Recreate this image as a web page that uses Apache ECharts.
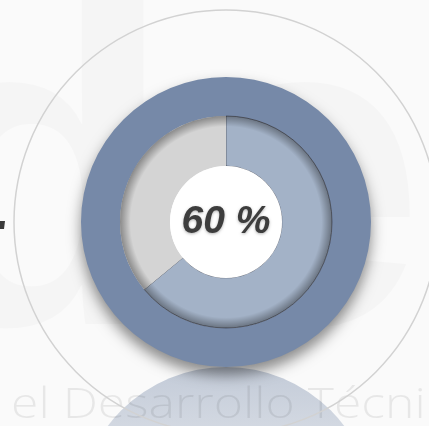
<!DOCTYPE html>
<html>
<head>
<meta charset="utf-8">
<script src="https://cdn.jsdelivr.net/npm/echarts@6/dist/echarts.min.js"></script>
<style>
html,body{margin:0;padding:0;background:#fafafa;}
#c{width:429px;height:426px;}
</style>
</head>
<body>
<div id="c"></div>
<script>
const categories = ['Completado', 'Restante'];
const values = [64, 36];          // slice sizes as drawn in the picture
const centerLabel = '60 %';       // label printed in the centre
const watermarkTop = 'de';
const watermarkBottom = 'el Desarrollo Técni';

const chart = echarts.init(document.getElementById('c'), null, {renderer: 'canvas'});
const cx = 226, cy = 222;

const option = {
  backgroundColor: '#fafafa',
  animation: false,
  graphic: [
    { type: 'text', silent: true,
      style: { x: -100, y: 425, verticalAlign: 'bottom', text: watermarkTop,
        font: 'bold 450px "Liberation Sans"', fill: 'rgba(0,0,0,0.02)' } },
    { type: 'circle', shape: { cx: cx, cy: 515, r: 148 }, silent: true,
      style: { fill: { type: 'linear', x: 0, y: 0, x2: 0, y2: 1,
        colorStops: [{ offset: 0, color: 'rgba(118,137,168,0.42)' }, { offset: 0.4, color: 'rgba(118,137,168,0.18)' }, { offset: 1, color: 'rgba(118,137,168,0.05)' }] } } },
    { type: 'text', silent: true, x: 11, y: 427, scaleX: 1.16, originX: 0,
      style: { x: 0, y: 0, verticalAlign: 'bottom', text: watermarkBottom,
        font: '300 43px "Open Sans"', fill: 'rgba(0,0,0,0.075)' } },
    { type: 'circle', shape: { cx: cx, cy: cy, r: 212 }, silent: true,
      style: { fill: 'none', stroke: '#d2d2d2', lineWidth: 1.5 } },
    { type: 'polygon', shape: { points: [[0, 221], [5, 221], [4, 229], [0, 229]] }, silent: true,
      style: { fill: '#3a3a3a' } }
  ],
  series: [
    {
      type: 'pie', silent: true, center: [cx, cy], radius: [106, 145],
      label: { show: false }, labelLine: { show: false },
      itemStyle: { color: '#7689a8', shadowBlur: 14, shadowOffsetY: 8, shadowColor: 'rgba(0,0,0,0.45)' },
      data: [{ value: 1, name: 'ring' }]
    },
    {
      type: 'pie', silent: true, center: [cx, cy], radius: [56, 106],
      startAngle: 90, clockwise: true,
      label: { show: false }, labelLine: { show: false },
      data: categories.map((n, i) => ({
        name: n, value: values[i],
        itemStyle: i === 0
          ? { color: '#a3b2c7', borderColor: 'rgba(40,40,50,0.55)', borderWidth: 1 }
          : { color: '#d4d4d4', borderWidth: 0 }
      }))
    },
    {
      type: 'pie', silent: true, center: [cx, cy], radius: [56, 106], z: 3,
      label: { show: false }, labelLine: { show: false },
      itemStyle: { color: { type: 'radial', x: 0.5, y: 0.5, r: 0.5,
        colorStops: [{ offset: 0, color: 'rgba(0,0,0,0)' }, { offset: 0.9, color: 'rgba(0,0,0,0)' }, { offset: 1, color: 'rgba(0,0,0,0.35)' }] } },
      data: [{ value: 1, name: 'shade' }]
    },
    {
      type: 'pie', silent: true, center: [cx, cy], radius: [0, 56], z: 4,
      labelLine: { show: false },
      itemStyle: { color: '#ffffff' },
      label: { show: true, position: 'center', formatter: centerLabel,
        fontFamily: 'Liberation Sans', fontWeight: 'bold', fontStyle: 'italic', fontSize: 39,
        color: '#3d3d3d', textShadowColor: 'rgba(0,0,0,0.3)', textShadowBlur: 3, textShadowOffsetY: 1 },
      data: [{ value: 1, name: 'center' }]
    }
  ]
};
chart.setOption(option);
</script>
</body>
</html>
